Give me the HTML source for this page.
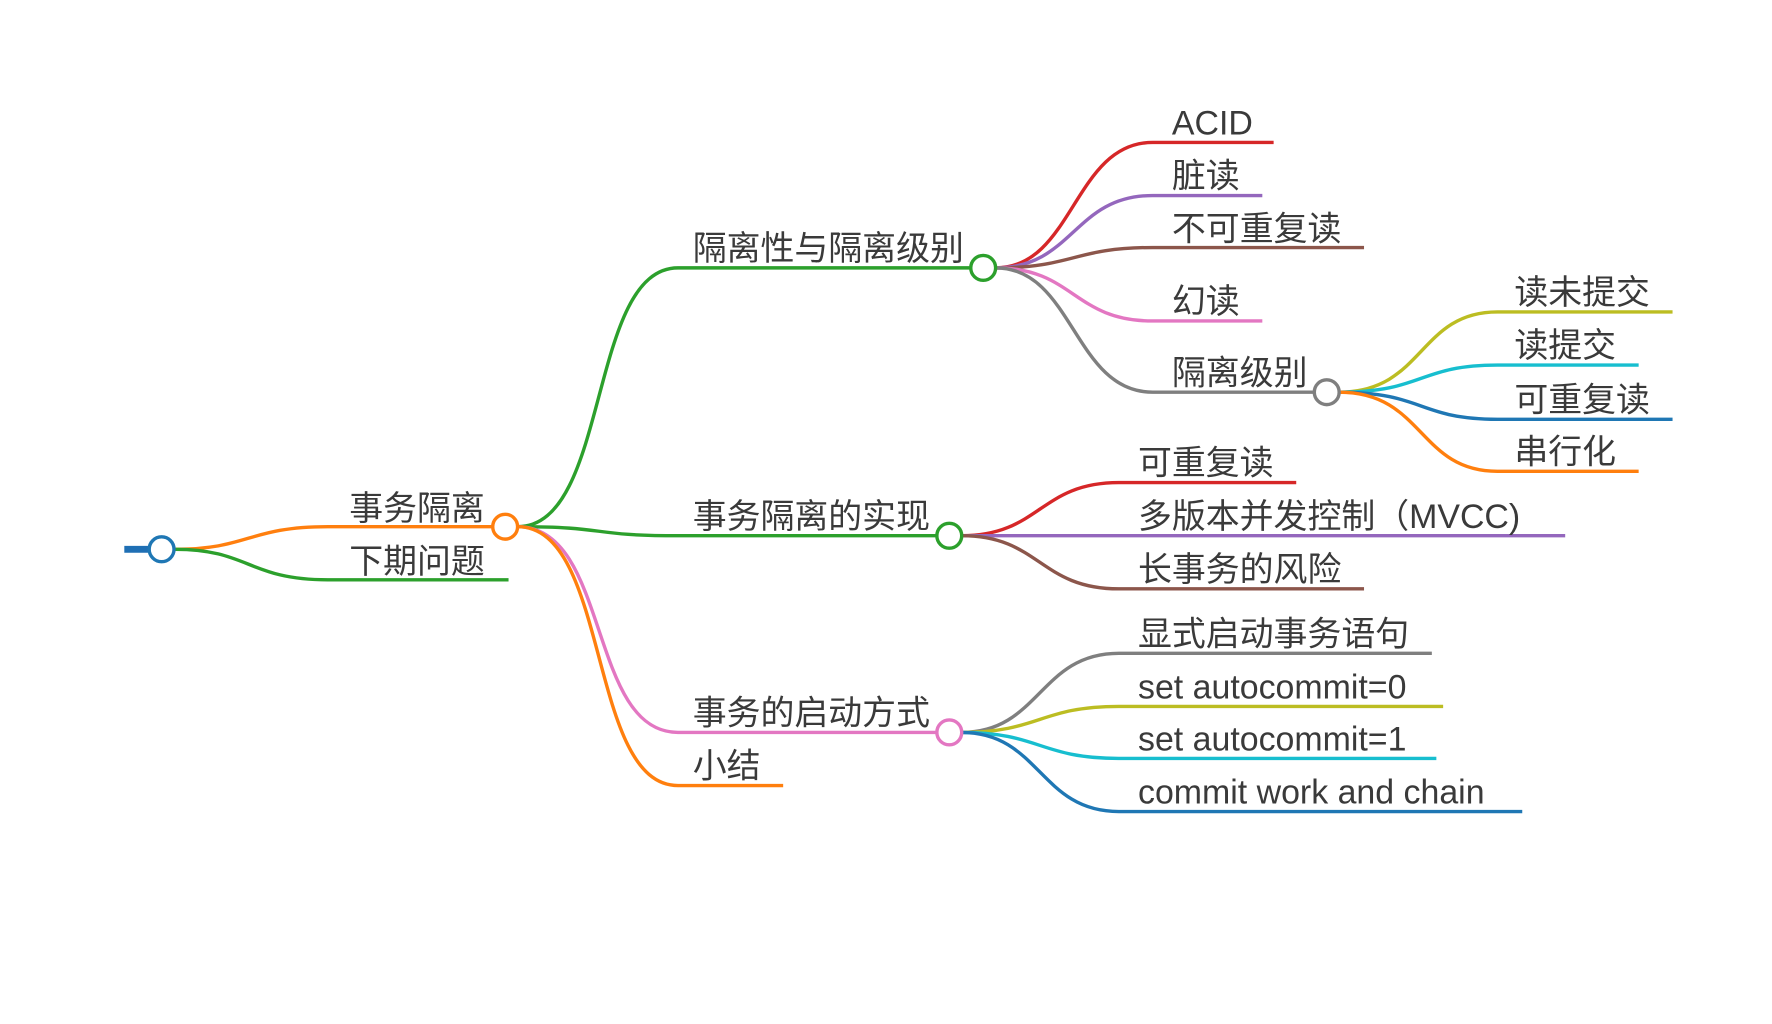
<!DOCTYPE html>
<html><head><meta charset="utf-8"><style>
html,body{margin:0;padding:0;background:#fff;width:1772px;height:1024px;overflow:hidden}
svg{display:block}
text{font-family:"Liberation Sans","Noto Sans CJK SC",sans-serif;font-size:30px;fill:#3a3a3a}
path{fill:none;stroke-width:3}
circle{fill:#fff;stroke-width:3}
</style></head><body>
<svg width="1772" height="1024" viewBox="0 0 1568 906" preserveAspectRatio="none">
<line x1="110" y1="486" x2="134" y2="486" stroke="#1f6fb4" stroke-width="6"/>
<path d="M155 486 C220 486 220 466 290 466 L436 466" stroke="#ff7f0e"/>
<path d="M155 486 C220 486 220 513 290 513 L450 513" stroke="#2ca02c"/>
<text x="309" y="460">事务隔离</text>
<text x="309" y="507">下期问题</text>
<path d="M458 466 C540 466 520 237 600 237 L859 237" stroke="#2ca02c"/>
<path d="M458 466 C540 466 520 474 600 474 L829 474" stroke="#2ca02c"/>
<path d="M458 466 C540 466 520 648 600 648 L829 648" stroke="#e377c2"/>
<path d="M458 466 C540 466 520 695 600 695 L693 695" stroke="#ff7f0e"/>
<text x="613" y="230">隔离性与隔离级别</text>
<text x="613" y="467">事务隔离的实现</text>
<text x="613" y="641">事务的启动方式</text>
<text x="613" y="688">小结</text>
<path d="M881 237 C950 237 950 126 1020 126 L1127 126" stroke="#d62728"/>
<path d="M881 237 C950 237 950 173 1020 173 L1117 173" stroke="#9467bd"/>
<path d="M881 237 C950 237 950 219 1020 219 L1207 219" stroke="#8c564b"/>
<path d="M881 237 C950 237 950 284 1020 284 L1117 284" stroke="#e377c2"/>
<path d="M881 237 C950 237 950 347 1020 347 L1163 347" stroke="#7f7f7f"/>
<text x="1037" y="119">ACID</text>
<text x="1037" y="166">脏读</text>
<text x="1037" y="213">不可重复读</text>
<text x="1037" y="277">幻读</text>
<text x="1037" y="340">隔离级别</text>
<path d="M1185 347 C1260 347 1255 276 1325 276 L1480 276" stroke="#bcbd22"/>
<path d="M1185 347 C1260 347 1255 323 1325 323 L1450 323" stroke="#17becf"/>
<path d="M1185 347 C1260 347 1255 371 1325 371 L1480 371" stroke="#1f77b4"/>
<path d="M1185 347 C1260 347 1255 417 1325 417 L1450 417" stroke="#ff7f0e"/>
<text x="1340" y="269">读未提交</text>
<text x="1340" y="316">读提交</text>
<text x="1340" y="364">可重复读</text>
<text x="1340" y="410">串行化</text>
<path d="M851 474 C920 474 920 427 990 427 L1147 427" stroke="#d62728"/>
<path d="M851 474 L1385 474" stroke="#9467bd"/>
<path d="M851 474 C920 474 920 521 990 521 L1207 521" stroke="#8c564b"/>
<text x="1007" y="420">可重复读</text>
<text x="1007" y="467">多版本并发控制（MVCC)</text>
<text x="1007" y="514">长事务的风险</text>
<path d="M851 648 C920 648 920 578 990 578 L1267 578" stroke="#7f7f7f"/>
<path d="M851 648 C920 648 920 625 990 625 L1277 625" stroke="#bcbd22"/>
<path d="M851 648 C920 648 920 671 990 671 L1271 671" stroke="#17becf"/>
<path d="M851 648 C920 648 920 718 990 718 L1347 718" stroke="#1f77b4"/>
<text x="1007" y="571">显式启动事务语句</text>
<text x="1007" y="618">set autocommit=0</text>
<text x="1007" y="664">set autocommit=1</text>
<text x="1007" y="711">commit work and chain</text>
<circle cx="143" cy="486" r="11" stroke="#1f77b4"/>
<circle cx="447" cy="466" r="11" stroke="#ff7f0e"/>
<circle cx="870" cy="237" r="11" stroke="#2ca02c"/>
<circle cx="1174" cy="347" r="11" stroke="#7f7f7f"/>
<circle cx="840" cy="474" r="11" stroke="#2ca02c"/>
<circle cx="840" cy="648" r="11" stroke="#e377c2"/>
</svg>
</body></html>
